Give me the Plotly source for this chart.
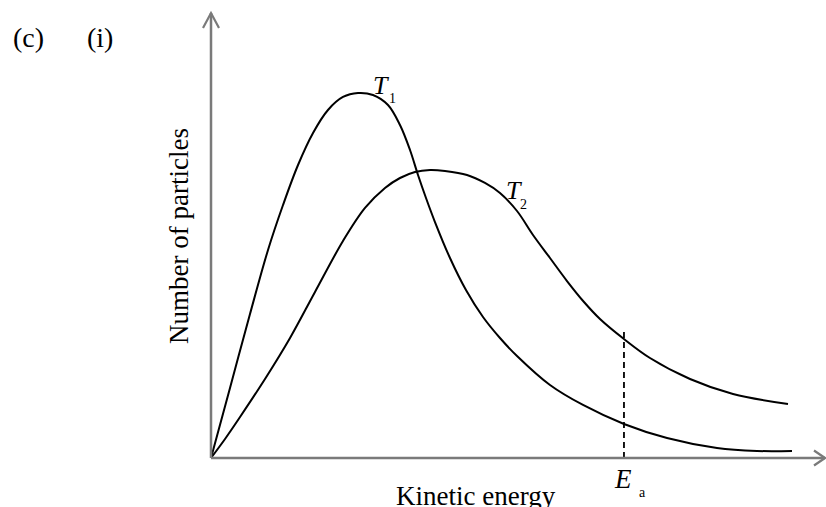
import plotly.graph_objects as go

# ---- data (arbitrary units: kinetic energy 0-100, particles 0-100) ----
t1_energy = [0.0, 3.09, 6.34, 9.27, 11.71, 14.15, 16.59, 19.02, 21.46, 23.90, 26.34,
             28.78, 30.73, 32.36, 33.66, 34.96, 36.42, 38.86, 41.46, 44.23, 46.99,
             49.76, 55.12, 60.49, 67.15, 74.15, 82.28, 88.78, 94.47]
t1_count = [0.0, 15.77, 32.43, 46.85, 56.98, 65.99, 73.20, 78.38, 81.31, 82.21, 81.76,
            79.50, 75.00, 69.37, 63.74, 58.56, 53.15, 45.05, 37.84, 31.76, 27.03,
            22.97, 16.44, 11.94, 7.66, 4.50, 2.25, 1.58, 1.58]

t2_energy = [0.0, 2.28, 4.72, 8.78, 12.85, 16.91, 21.46, 25.04, 28.29, 30.73, 33.17,
             35.61, 38.05, 41.63, 44.55, 46.99, 49.76, 52.36, 55.12, 57.89, 60.65,
             63.25, 67.15, 71.38, 77.89, 84.88, 93.82]
t2_count = [0.0, 4.28, 9.23, 17.79, 27.03, 37.39, 48.87, 56.31, 60.81, 63.06, 64.41,
            64.86, 64.64, 63.74, 61.94, 59.68, 55.63, 50.23, 45.05, 39.86, 35.14,
            31.31, 26.80, 22.52, 17.79, 14.41, 12.16]

activation_energy = 67.15
activation_line_top = 29.05

x_title = "Kinetic energy"
y_title = "Number of particles"
curve_names = ["T", "T"]
curve_subs = ["1", "2"]
ea_main = "E"
ea_sub = "a"
part_labels = ["(c)", "(i)"]

# ---- geometry (pixel scale) ----
W, H = 826, 507
x0_px, y0_px = 211, 458
px_per_x, px_per_y = 6.15, 4.44
x_range = [-x0_px / px_per_x, (W - x0_px) / px_per_x]
y_range = [-(H - y0_px) / px_per_y, y0_px / px_per_y]

def dx(p):
    return p / px_per_x

def dy(p):
    return p / px_per_y

FONT = "Liberation Serif"
axis_col = "#7a7a7a"

fig = go.Figure()
for xs, ys in ((t1_energy, t1_count), (t2_energy, t2_count)):
    fig.add_trace(go.Scatter(x=xs, y=ys, mode="lines",
                             line=dict(color="black", width=2, shape="spline", smoothing=1.0),
                             hoverinfo="skip"))
fig.add_trace(go.Scatter(x=[activation_energy, activation_energy], y=[0, activation_line_top],
                         mode="lines", line=dict(color="black", width=1.8, dash="6px,4px"),
                         hoverinfo="skip"))

x_end = x_range[1] - dx(1)
y_end = y_range[1] - dy(13)
shapes = [
    dict(type="line", xref="x", yref="y", x0=0, y0=0, x1=x_end, y1=0,
         line=dict(color=axis_col, width=2.5)),
    dict(type="line", xref="x", yref="y", x0=0, y0=0, x1=0, y1=y_end,
         line=dict(color=axis_col, width=2.5)),
    dict(type="path", xref="x", yref="y",
         path=f"M {x_end - dx(11)},{dy(7.5)} L {x_end},0 L {x_end - dx(11)},{-dy(7.5)}",
         line=dict(color=axis_col, width=2.2)),
    dict(type="path", xref="x", yref="y",
         path=f"M {-dx(8)},{y_end - dy(15)} L 0,{y_end} L {dx(8)},{y_end - dy(15)}",
         line=dict(color=axis_col, width=2.2)),
]

def px_ann(text, xp, yp, size, italic=False, angle=0):
    t = f"<i>{text}</i>" if italic else text
    return dict(text=t, xref="paper", yref="paper", x=xp / W, y=1 - yp / H,
                xanchor="center", yanchor="middle", showarrow=False, textangle=angle,
                font=dict(family=FONT, size=size, color="black"))

annotations = [
    px_ann(part_labels[0], 28, 37, 28),
    px_ann(part_labels[1], 100, 37, 28),
    px_ann(y_title, 179, 236, 27, angle=-90),
    px_ann(x_title, 476, 496, 27),
    px_ann(curve_names[0], 381, 86, 26, italic=True),
    px_ann(curve_subs[0], 392, 98, 14),
    px_ann(curve_names[1], 514, 191, 26, italic=True),
    px_ann(curve_subs[1], 523, 204, 14),
    px_ann(ea_main, 623, 479, 27, italic=True),
    px_ann(ea_sub, 642, 492, 14),
]

fig.update_layout(
    width=W, height=H, margin=dict(l=0, r=0, t=0, b=0),
    paper_bgcolor="white", plot_bgcolor="white", showlegend=False,
    xaxis=dict(range=x_range, visible=False, fixedrange=True),
    yaxis=dict(range=y_range, visible=False, fixedrange=True),
    shapes=shapes, annotations=annotations,
)
fig.write_html("out.html", config={"displayModeBar": False},
               post_script="document.body.style.margin='0px';document.body.style.padding='0px';")
